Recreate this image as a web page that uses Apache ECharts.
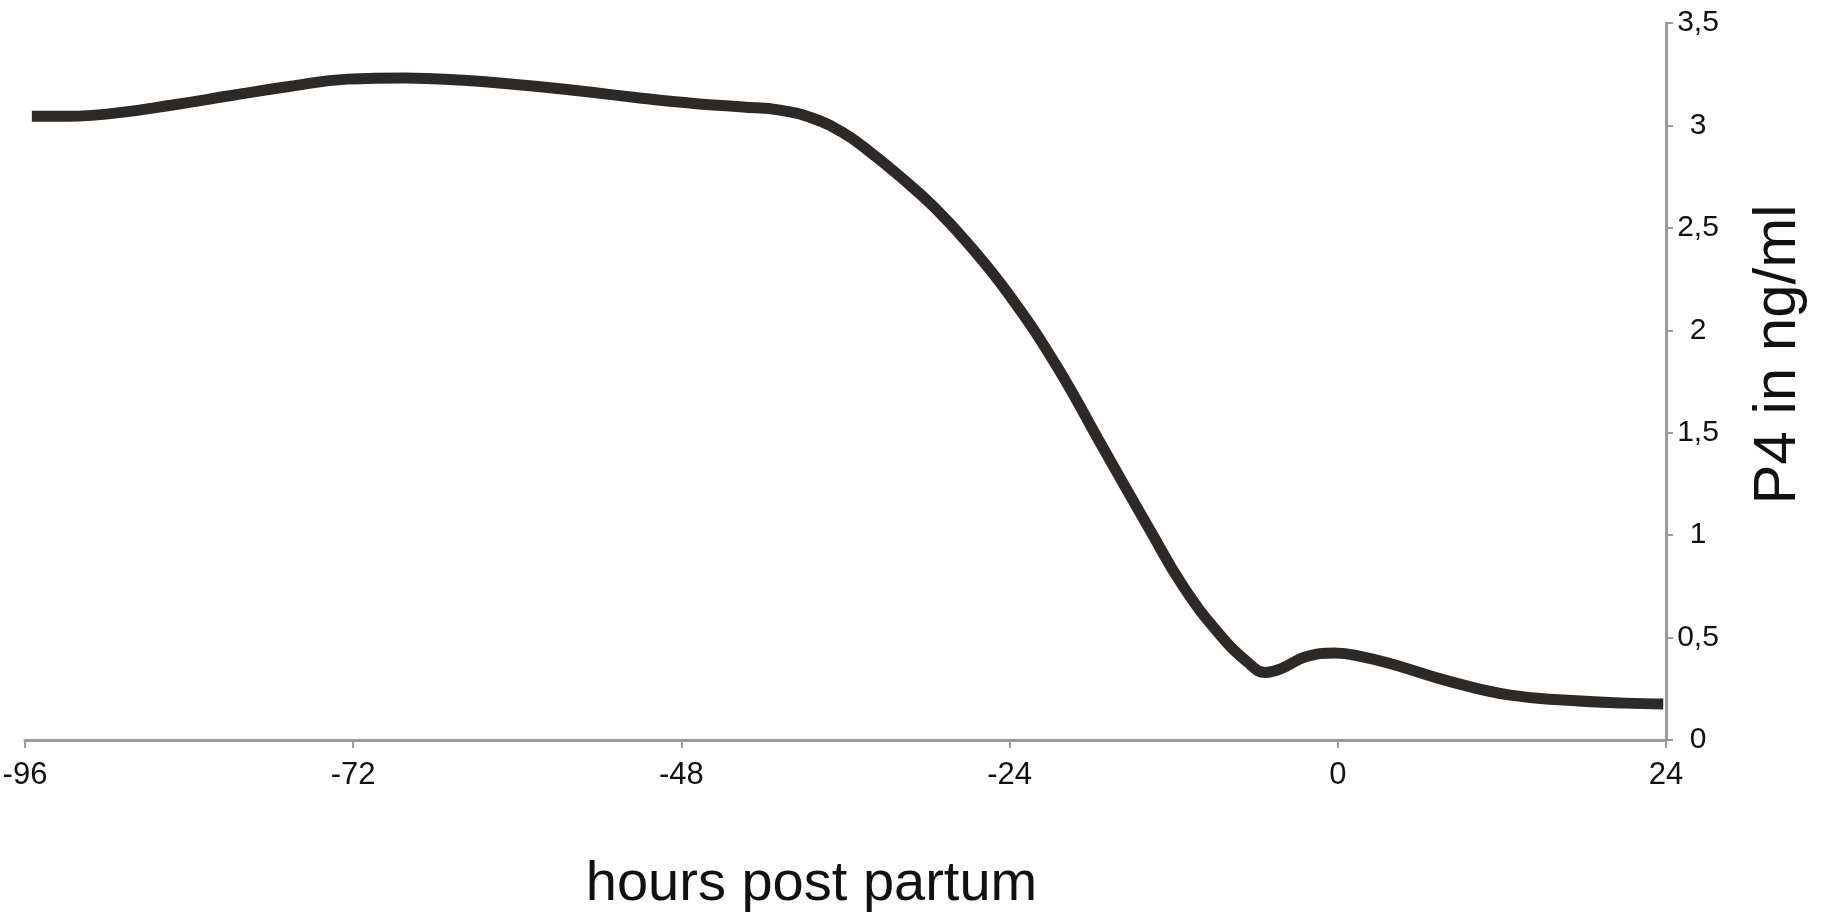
<!DOCTYPE html>
<html>
<head>
<meta charset="utf-8">
<title>P4 post partum</title>
<script src="https://cdn.jsdelivr.net/npm/echarts@6/dist/echarts.min.js"></script>
<style>
  html, body { margin: 0; padding: 0; background: #fff; }
  #chart { width: 1821px; height: 913px; }
</style>
</head>
<body>
<div id="chart"></div>
<script>
// hours relative to partum
const hours = [-95.5, -92.8, -89.4, -85.2, -80.9, -76.7, -72.4, -68.2, -63.9, -59.7, -55.4, -51.2,
  -46.9, -43.5, -40.8, -38.4, -36.2, -34.2, -32, -29.5, -27, -24, -20.6, -17.2, -13.8, -11.3, -8.7,
  -6.6, -5.3, -4.1, -2.4, -0.2, 1.9, 4, 8.3, 12.5, 16.8, 21, 23.8];
// P4 concentration (ng/ml)
const p4 = [3.045, 3.045, 3.06, 3.1, 3.146, 3.19, 3.226, 3.232, 3.22, 3.197, 3.168, 3.135,
  3.106, 3.09, 3.075, 3.035, 2.965, 2.87, 2.75, 2.6, 2.42, 2.17, 1.83, 1.43, 1.032, 0.749, 0.52,
  0.38, 0.33, 0.35, 0.405, 0.425, 0.405, 0.37, 0.284, 0.22, 0.194, 0.18, 0.176];

const xTicks = [-96, -72, -48, -24, 0, 24];
const yTicks = [0, 0.5, 1, 1.5, 2, 2.5, 3, 3.5];

const FONT = "'Liberation Sans', Arial, sans-serif";
const AXIS_GREY = '#9a9a9a';

const chart = echarts.init(document.getElementById('chart'));

const option = {
  backgroundColor: '#fff',
  animation: false,
  // fixed plot box, don't let v6 shrink it around the labels
  grid: { left: 25, right: 155, top: 23, bottom: 173, outerBoundsMode: 'none', containLabel: false },
  xAxis: {
    type: 'value',
    min: xTicks[0],
    max: xTicks[xTicks.length - 1],
    interval: 24,
    name: 'hours post partum',
    nameLocation: 'middle',
    nameGap: 117,
    nameTextStyle: { fontFamily: FONT, fontSize: 56, color: '#111', padding: [0, 68, 0, 0] },
    axisLine: { onZero: false, lineStyle: { color: AXIS_GREY, width: 3 } },
    axisTick: { length: 8, lineStyle: { color: AXIS_GREY, width: 2 } },
    axisLabel: { fontFamily: FONT, fontSize: 31, color: '#111', margin: 20 },
    splitLine: { show: false },
  },
  yAxis: {
    type: 'value',
    position: 'right',
    min: yTicks[0],
    max: yTicks[yTicks.length - 1],
    interval: 0.5,
    name: 'P4 in ng/ml',
    nameLocation: 'middle',
    nameRotate: 90,
    nameGap: 82,
    nameTextStyle: { fontFamily: FONT, fontSize: 60, color: '#111', padding: [0, 0, 0, 54] },
    axisLine: { show: true, onZero: false, lineStyle: { color: AXIS_GREY, width: 3 } },
    axisTick: { show: true, length: 7, lineStyle: { color: AXIS_GREY, width: 2 } },
    axisLabel: {
      fontFamily: FONT,
      fontSize: 30,
      color: '#111',
      margin: 32,
      align: 'center',
      formatter: (v) => String(v).replace('.', ','),
    },
    splitLine: { show: false },
  },
  series: [
    {
      type: 'line',
      data: hours.map((h, i) => [h, p4[i]]),
      smooth: 0.45,
      symbol: 'none',
      lineStyle: { color: '#2d2926', width: 11 },
    },
  ],
};

chart.setOption(option);
</script>
</body>
</html>
